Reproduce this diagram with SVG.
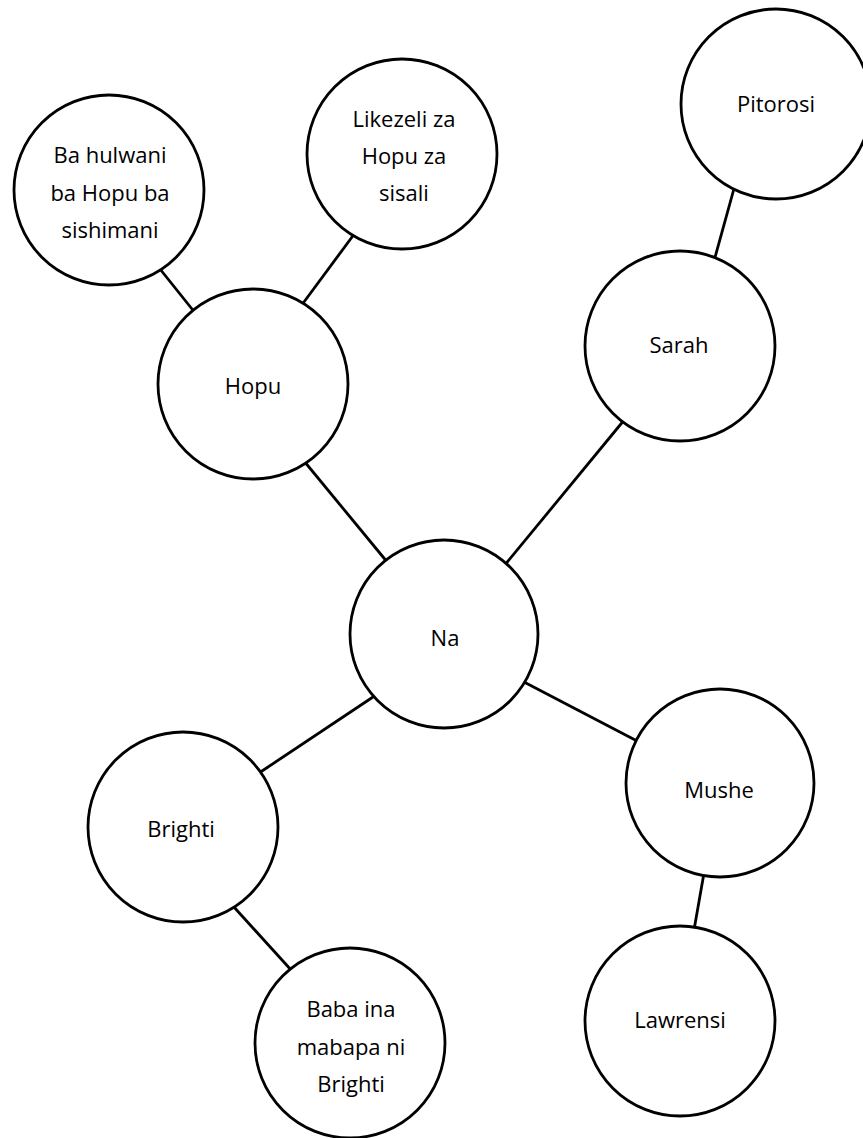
<svg xmlns="http://www.w3.org/2000/svg" width="863" height="1138" viewBox="0 0 863 1138">
<style>
.n circle{fill:#fff;stroke:#000;stroke-width:2.8}
.n text{font-family:"Open Sans","Liberation Sans",sans-serif;font-size:22px;fill:#000;text-anchor:middle}
#connectors line{stroke:#000;stroke-width:2.8}
</style>
<rect width="863" height="1138" fill="#fff"/>
<g id="connectors">
<line x1="160" y1="269" x2="196" y2="314"/>
<line x1="355" y1="233" x2="301" y2="306"/>
<line x1="304" y1="461" x2="388" y2="563"/>
<line x1="735" y1="185" x2="714" y2="261"/>
<line x1="625" y1="419" x2="504" y2="566"/>
<line x1="524" y1="682" x2="639" y2="742"/>
<line x1="376" y1="695" x2="259" y2="773"/>
<line x1="233" y1="906" x2="292" y2="971"/>
<line x1="704" y1="873" x2="694" y2="930"/>
</g>
<g id="ba-hulwani" class="n"><circle cx="109" cy="190" r="95"/><text x="110" y="163">Ba hulwani</text><text x="110" y="201">ba Hopu ba</text><text x="110" y="238">sishimani</text></g>
<g id="likezeli" class="n"><circle cx="402" cy="154" r="95"/><text x="404" y="127">Likezeli za</text><text x="404" y="164">Hopu za</text><text x="404" y="201">sisali</text></g>
<g id="pitorosi" class="n"><circle cx="776" cy="104" r="95"/><text x="776" y="112">Pitorosi</text></g>
<g id="sarah" class="n"><circle cx="680" cy="346" r="95"/><text x="679" y="353">Sarah</text></g>
<g id="hopu" class="n"><circle cx="253" cy="384" r="95"/><text x="253" y="394">Hopu</text></g>
<g id="na" class="n"><circle cx="444" cy="634" r="94"/><text x="445" y="646">Na</text></g>
<g id="mushe" class="n"><circle cx="720" cy="783" r="94"/><text x="719" y="798">Mushe</text></g>
<g id="brighti" class="n"><circle cx="183" cy="827" r="95"/><text x="181" y="837">Brighti</text></g>
<g id="baba" class="n"><circle cx="350" cy="1043" r="95"/><text x="351" y="1017">Baba ina</text><text x="351" y="1055">mabapa ni</text><text x="351" y="1092">Brighti</text></g>
<g id="lawrensi" class="n"><circle cx="680" cy="1021" r="95"/><text x="680" y="1028">Lawrensi</text></g>
</svg>
